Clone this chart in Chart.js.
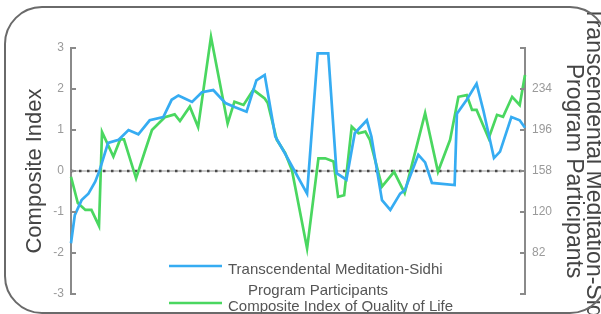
<!DOCTYPE html>
<html>
<head>
<meta charset="utf-8">
<script src="https://cdn.jsdelivr.net/npm/chart.js@4.4.1/dist/chart.umd.min.js"></script>
<style>
body{margin:0;background:#fff;overflow:hidden;}
#wrap{position:relative;width:601px;height:314px;overflow:hidden;}
#box{position:absolute;left:4px;top:6px;width:600px;height:304px;border:2px solid #6a6a6a;border-radius:38px;pointer-events:none;}
</style>
</head>
<body>
<div id="wrap">
<canvas id="chart" width="601" height="314"></canvas>
<div id="box"></div>
</div>
<script>
// composite index of quality of life (left axis)
const qolDays=[0,0.9,1.9,2.7,3.7,4.1,5.6,6.5,7,8.6,9.8,10.7,12.4,13.7,14.4,15.7,16.8,18.5,20.7,21.6,22.8,24.1,25.6,26,27.2,28.3,29.2,31.2,32.7,33.6,34.7,35.3,36.1,37.1,38,38.9,39.5,41.1,42.7,44.1,46.8,48.5,50.1,51.2,52.3,53,53.6,55.2,56.3,57.1,58.3,59.3,60];
const qolIndex=[-0.14,-0.78,-0.95,-0.95,-1.34,0.95,0.35,0.77,0.77,-0.18,0.5,1.0,1.31,1.38,1.22,1.57,1.07,3.27,1.16,1.69,1.61,1.98,1.77,1.66,0.76,0.44,0.02,-1.89,0.31,0.31,0.23,-0.63,-0.59,1.08,0.92,0.96,0.76,-0.38,-0.02,-0.54,1.41,-0.02,0.76,1.81,1.85,1.49,1.49,0.8,1.37,1.32,1.81,1.61,2.34];

// TM-Sidhi participants (right axis)
const tmDays=[0,0.5,1.4,2.3,3.2,3.8,4.9,6.3,7.6,8.9,10.4,12.2,13.3,14.2,15.1,16,17.3,18.8,20.4,21.7,23.2,24.5,25.6,27,28.3,31.2,32.6,34,35.1,36.4,37.5,39.1,39.7,41.1,42.2,43.5,44.1,45.9,46.8,47.7,50.7,51,52.3,53.6,54.5,55.9,56.7,58.2,59.3,60];
const tmParticipants=[91,117,131,137,148,159,184,187,196,192,205,208,224,228,225,222,231,233,221,217,213,242,247,190,174,137,267,267,156,150,193,205,190,131,122,137,140,173,166,147,145,211,224,239,214,170,176,208,205,198];

const indexTicks=[-3,-2,-1,0,1,2,3];
const participantTicks=[44,82,120,158,196,234,272];
const participantLabels=["","82","120","158","196","234",""];

const FONT="'Liberation Sans', Arial, sans-serif";

const decor={
id:"decor",
beforeDatasetsDraw(chart){
const {ctx,chartArea,scales}=chart;
const y0=scales.y.getPixelForValue(0);
ctx.save();
ctx.strokeStyle="#b5b5b5";
ctx.lineWidth=1.5;
ctx.beginPath();
ctx.moveTo(chartArea.left,y0);
ctx.lineTo(chartArea.right,y0);
ctx.stroke();
ctx.setLineDash([2.5,5.5]);
ctx.strokeStyle="#4a4a4a";
ctx.lineWidth=2.5;
ctx.beginPath();
ctx.moveTo(chartArea.left,y0);
ctx.lineTo(chartArea.right,y0);
ctx.stroke();
ctx.restore();
},
afterDraw(chart){
const {ctx,chartArea,scales}=chart;
ctx.save();
// inward tick marks
ctx.strokeStyle="#8a8a8a";
ctx.lineWidth=2;
indexTicks.forEach((v)=>{
const p=scales.y.getPixelForValue(v);
ctx.beginPath();
ctx.moveTo(chartArea.left,p);
ctx.lineTo(chartArea.left+5,p);
ctx.stroke();
});
participantTicks.forEach((v)=>{
const p=scales.y2.getPixelForValue(v);
ctx.beginPath();
ctx.moveTo(chartArea.right,p);
ctx.lineTo(chartArea.right-5,p);
ctx.stroke();
});
// legend
const rows=[{y:266,indent:[0,20]},{y:303,indent:[0]}];
ctx.font="15px "+FONT;
ctx.textBaseline="middle";
ctx.fillStyle="#555";
chart.data.datasets.forEach((ds,i)=>{
const row=rows[i];
ctx.strokeStyle=ds.borderColor;
ctx.lineWidth=2.5;
ctx.beginPath();
ctx.moveTo(169,row.y);
ctx.lineTo(222,row.y);
ctx.stroke();
ds.label.split("\n").forEach((line,k)=>{
ctx.fillText(line,228+row.indent[k],row.y+4+k*21);
});
});
ctx.restore();
}
};

new Chart(
document.getElementById("chart"),
{
type:"line",
data:{
datasets:[
{
label:"Transcendental Meditation-Sidhi\nProgram Participants",
data:tmDays.map((d,i)=>({x:d,y:tmParticipants[i]})),
yAxisID:"y2",
borderColor:"#36acf2",
borderWidth:2.7,
pointRadius:0,
tension:0,
clip:false
},
{
label:"Composite Index of Quality of Life",
data:qolDays.map((d,i)=>({x:d,y:qolIndex[i]})),
yAxisID:"y",
borderColor:"#4ad760",
borderWidth:2.7,
pointRadius:0,
tension:0,
clip:false
}
]
},
options:{
responsive:false,
animation:false,
layout:{padding:{top:48,bottom:20,left:0,right:0}},
plugins:{legend:{display:false},tooltip:{enabled:false}},
scales:{
x:{
type:"linear",
min:0,
max:60,
display:false
},
y:{
position:"left",
min:-3,
max:3,
afterFit:(s)=>{s.width=71;},
afterBuildTicks:(s)=>{s.ticks=indexTicks.map((v)=>({value:v}));},
ticks:{color:"#9a9a9a",font:{family:FONT,size:12},padding:7},
grid:{drawOnChartArea:false,drawTicks:false},
border:{display:true,color:"#8a8a8a",width:2},
title:{display:true,text:"Composite Index",color:"#444",font:{family:FONT,size:22,lineHeight:1.1},padding:{top:23,bottom:0}}
},
y2:{
position:"right",
min:44,
max:272,
afterFit:(s)=>{s.width=76;},
afterBuildTicks:(s)=>{s.ticks=participantTicks.map((v)=>({value:v}));},
ticks:{color:"#9a9a9a",font:{family:FONT,size:12},padding:7,
callback:(v)=>participantLabels[participantTicks.indexOf(v)]},
grid:{drawOnChartArea:false,drawTicks:false},
border:{display:true,color:"#8a8a8a",width:2},
title:{display:true,text:["Transcendental Meditation-Sidhi","Program Participants"],color:"#444",font:{family:FONT,size:23,lineHeight:0.9},padding:{top:-3,bottom:0}}
}
}
},
plugins:[decor]
}
);
</script>
</body>
</html>
